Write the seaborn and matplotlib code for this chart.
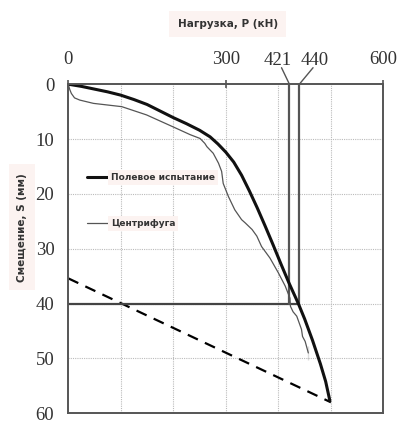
import numpy as np
import pandas as pd
import matplotlib
matplotlib.use("Agg")
import matplotlib.pyplot as plt
import seaborn as sns

# Полевое испытание (нагрузка P, кН / смещение S, мм)
field_p = [0, 25, 50, 75, 100, 125, 150, 175, 200, 225, 250, 270, 285, 300, 315, 330, 345,
           360, 375, 390, 405, 420, 438, 450, 465, 480, 490, 498]
field_s = [0, 0.4, 0.9, 1.4, 2.0, 2.8, 3.7, 4.9, 6.1, 7.2, 8.4, 9.6, 10.9, 12.4, 14.2, 16.6, 19.5,
           22.6, 25.9, 29.3, 32.8, 36.2, 40.0, 42.8, 46.7, 51.0, 54.2, 57.7]

# Центрифуга
centr_p = [0, 3, 6, 12, 22, 48, 102, 149, 200, 232, 251, 260, 264, 276, 286, 292, 295, 305, 317,
           330, 337, 350, 359, 368, 384, 400, 413, 422, 423, 428, 435, 444, 446, 451, 457, 457]
centr_s = [0, 1.0, 1.7, 2.5, 2.9, 3.5, 4.1, 5.6, 7.8, 9.2, 9.9, 10.8, 11.4, 12.6, 14.4, 15.9, 18.1, 20.5, 22.9,
           24.7, 25.3, 26.5, 27.7, 29.6, 31.7, 34.4, 36.8, 39.0, 40.5, 41.5, 42.3, 44.7, 46.0, 46.9, 47.8, 50.2]

dash_p = [0, 500]
dash_s = [35.4, 58.0]

limit_loads = [421, 440]
limit_s = 40
label_pos = [398, 470]

x_ticks = [0, 300, 600]
y_ticks = [0, 10, 20, 30, 40, 50, 60]
x_grid = [100, 200, 300, 400, 500]
y_grid = [10, 20, 30, 40, 50]

field = pd.DataFrame({"P": field_p, "S": field_s})
centr = pd.DataFrame({"P": centr_p, "S": centr_s})
dash = pd.DataFrame({"P": dash_p, "S": dash_s})

sns.set_style("white")
fig = plt.figure(figsize=(3.99, 4.23), dpi=100)
ax = fig.add_axes([0.171, 0.023, 0.790, 0.778])

gray = "#555555"
for g in x_grid:
    ax.axvline(g, color="#bbbbbb", linestyle=(0, (1, 1)), linewidth=0.8, zorder=0)
for g in y_grid:
    ax.axhline(g, color="#bbbbbb", linestyle=(0, (1, 1)), linewidth=0.8, zorder=0)

sns.lineplot(data=dash, x="P", y="S", ax=ax, color="black", linewidth=1.6,
             linestyle=(0, (5, 3.5)), sort=False)
ax.plot([0, limit_loads[1]], [limit_s, limit_s], color="#444444", linewidth=1.6)
for p in limit_loads:
    ax.plot([p, p], [0, limit_s], color=gray, linewidth=1.6)
sns.lineplot(data=centr, x="P", y="S", ax=ax, color="#555555", linewidth=0.9, sort=False,
             label="Центрифуга")
sns.lineplot(data=field, x="P", y="S", ax=ax, color="#111111", linewidth=2.2, sort=False,
             label="Полевое испытание")

ax.set_xlim(0, 600)
ax.set_ylim(60, 0)
ax.xaxis.tick_top()
ax.set_xticks(x_ticks)
ax.set_yticks(y_ticks)
ax.tick_params(axis="x", direction="inout", length=6, width=1.2, color=gray,
               pad=9, labelsize=13.5, labelcolor="#333333")
ax.tick_params(axis="y", direction="out", length=5, width=1.2, color=gray,
               pad=5, labelsize=13.5, labelcolor="#333333")
for lbl in ax.get_xticklabels() + ax.get_yticklabels():
    lbl.set_family("Liberation Serif")
for sp in ax.spines.values():
    sp.set_color(gray)
    sp.set_linewidth(1.4)
ax.set_xlabel("")
ax.set_ylabel("")

# подписи предельных нагрузок с выносками
for p, lp in zip(limit_loads, label_pos):
    ax.text(lp, -4.4, str(p), ha="center", va="center", fontsize=13.5,
            family="Liberation Serif", color="#333333", clip_on=False)
    ax.plot([lp + (8 if lp < p else -4), p], [-3.0, 0], color=gray, linewidth=1.0, clip_on=False)

handles, labels = ax.get_legend_handles_labels()
leg = ax.legend(handles[::-1], labels[::-1], loc="upper left", bbox_to_anchor=(0.035, 0.755),
                frameon=False, fontsize=6.5, handlelength=2.4, handletextpad=0.2, labelspacing=4.1)
for t in leg.get_texts():
    t.set_color("#333333")
    t.set_fontweight("bold")
    t.set_bbox(dict(facecolor="#fcf3f1", edgecolor="none", pad=2))

fig.text(0.571, 0.943, "Нагрузка, P (кН)", ha="center", va="center", fontsize=7.5,
         fontweight="bold", color="#333333",
         bbox=dict(facecolor="#fcf3f1", edgecolor="none", pad=6))
fig.text(0.055, 0.463, "Смещение, S (мм)", ha="center", va="center", rotation=90, fontsize=7.5,
         fontweight="bold", color="#333333",
         bbox=dict(facecolor="#fcf3f1", edgecolor="none", pad=6))

fig.savefig("out.png", dpi=100)
